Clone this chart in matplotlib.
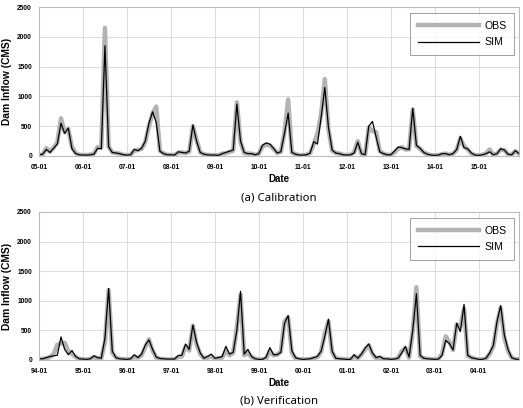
import numpy as np
import matplotlib
matplotlib.use('Agg')
import matplotlib.pyplot as plt

# monthly dam inflow (CMS)
# calibration 2005-01 .. 2015-12
cal_sim = [20, 30, 110, 60, 130, 200, 550, 380, 470, 120, 40, 20,
           15, 15, 20, 30, 130, 120, 1850, 150, 60, 50, 40, 20,
           15, 20, 110, 90, 130, 250, 550, 740, 560, 80, 40, 20,
           20, 15, 70, 60, 50, 80, 520, 250, 60, 30, 20, 15,
           15, 10, 40, 60, 80, 100, 870, 250, 60, 40, 40, 20,
           40, 180, 220, 200, 130, 50, 70, 380, 720, 60, 30, 15,
           15, 20, 50, 240, 200, 650, 1150, 480, 100, 50, 40, 20,
           15, 20, 50, 230, 40, 20, 500, 580, 320, 70, 40, 20,
           20, 80, 150, 140, 120, 110, 800, 180, 130, 60, 30, 15,
           10, 15, 40, 40, 20, 40, 110, 330, 140, 120, 50, 15,
           10, 20, 40, 70, 20, 40, 120, 100, 30, 20, 90, 40]
cal_obs = [15, 25, 130, 70, 140, 230, 630, 400, 450, 150, 50, 20,
           15, 15, 25, 40, 150, 140, 2150, 160, 60, 50, 40, 20,
           15, 20, 90, 100, 120, 230, 500, 720, 830, 90, 40, 20,
           20, 15, 60, 60, 50, 70, 500, 270, 60, 30, 20, 15,
           15, 10, 40, 50, 70, 90, 900, 230, 50, 40, 40, 20,
           40, 160, 190, 180, 120, 50, 70, 400, 950, 60, 30, 15,
           15, 20, 50, 200, 380, 700, 1290, 450, 90, 50, 40, 20,
           15, 20, 60, 250, 40, 20, 480, 420, 400, 80, 40, 20,
           20, 60, 120, 150, 110, 110, 780, 170, 120, 60, 30, 15,
           10, 15, 30, 40, 20, 40, 100, 300, 160, 110, 40, 15,
           10, 20, 40, 110, 20, 40, 110, 100, 30, 20, 80, 40]

# verification 1994-01 .. 2004-12
ver_sim = [20, 20, 40, 60, 70, 80, 390, 180, 90, 160, 60, 20,
           15, 10, 20, 70, 40, 30, 370, 1210, 150, 40, 20, 15,
           10, 20, 90, 40, 100, 250, 340, 180, 50, 25, 20, 15,
           15, 15, 75, 80, 270, 180, 590, 300, 120, 30, 60, 100,
           30, 40, 60, 230, 100, 130, 500, 1160, 100, 180, 60, 20,
           10, 10, 50, 210, 90, 90, 130, 620, 750, 160, 40, 20,
           10, 15, 20, 40, 60, 150, 400, 690, 150, 30, 20, 15,
           10, 10, 90, 30, 100, 200, 270, 120, 40, 60, 20, 20,
           10, 15, 30, 120, 230, 50, 500, 1120, 80, 30, 20, 15,
           10, 15, 80, 330, 280, 170, 620, 480, 940, 80, 40, 25,
           10, 10, 30, 120, 250, 650, 920, 420, 180, 40, 15, 10]
ver_obs = [15, 20, 30, 50, 100, 260, 280, 290, 150, 100, 50, 20,
           10, 10, 20, 50, 30, 30, 300, 1180, 120, 40, 20, 15,
           10, 15, 50, 40, 80, 220, 350, 160, 40, 20, 15, 10,
           10, 15, 50, 60, 230, 160, 580, 260, 100, 30, 40, 60,
           20, 30, 40, 150, 80, 120, 550, 1100, 80, 120, 50, 20,
           10, 10, 30, 150, 80, 90, 140, 650, 720, 120, 30, 15,
           10, 10, 20, 30, 50, 140, 450, 650, 130, 30, 20, 15,
           10, 10, 60, 30, 90, 180, 250, 100, 30, 40, 20, 15,
           10, 10, 30, 150, 200, 40, 480, 1230, 60, 30, 20, 15,
           10, 15, 100, 400, 300, 170, 600, 560, 870, 70, 40, 20,
           10, 10, 30, 100, 230, 620, 880, 380, 150, 40, 15, 10]

cal_ticks = ['05-01', '06-01', '07-01', '08-01', '09-01', '10-01',
             '11-01', '12-01', '13-01', '14-01', '15-01']
ver_ticks = ['94-01', '95-01', '96-01', '97-01', '98-01', '99-01',
             '00-01', '01-01', '02-01', '03-01', '04-01']

fig = plt.figure(figsize=(5.23, 4.08), dpi=100)
ax1 = fig.add_axes([39/523, 1-156/408, 480/523, 149/408])
ax2 = fig.add_axes([39/523, 1-360/408, 480/523, 148/408])


def panel(ax, obs, sim, ticks, caption):
    t = np.arange(len(obs))
    ax.plot(t, obs, color='#b3b3b3', lw=3.2, label='OBS', solid_joinstyle='round')
    ax.plot(t, sim, color='black', lw=0.9, label='SIM')
    ax.set_xlim(0, len(obs)-1)
    ax.set_ylim(0, 2500)
    ax.set_xticks(np.arange(0, len(obs), 12))
    ax.set_xticklabels(ticks)
    ax.set_yticks(np.arange(0, 2501, 500))
    ax.grid(True, color='#dcdcdc', lw=0.7)
    ax.set_axisbelow(True)
    for s in ax.spines.values():
        s.set_color('#bbbbbb')
        s.set_linewidth(0.8)
    ax.tick_params(axis='x', length=0, pad=6, labelsize=4.8)
    ax.tick_params(axis='y', length=0, pad=5, labelsize=4.8)
    for lab in ax.get_xticklabels() + ax.get_yticklabels():
        lab.set_fontweight('bold')
        lab.set_fontfamily('Liberation Sans')
    ax.set_xlabel('Date', fontsize=7, fontweight='bold', family='Liberation Sans', labelpad=2)
    ax.set_ylabel('Dam Inflow (CMS)', fontsize=7.4, fontweight='bold', family='Liberation Sans', labelpad=4)
    leg = ax.legend(loc='upper right', handlelength=5.8, fancybox=False,
                    prop={'family': 'Liberation Sans', 'size': 7.6},
                    borderpad=0.75, labelspacing=0.6, handletextpad=0.5,
                    borderaxespad=0, bbox_to_anchor=(0.99, 0.96))
    leg.get_frame().set_edgecolor('#888888')
    leg.get_frame().set_linewidth(0.7)
    ax.text(0.5, -0.28, caption, transform=ax.transAxes, ha='center', va='center',
            fontsize=8.2, family='Noto Sans')


panel(ax1, cal_obs, cal_sim, cal_ticks, '(a) Calibration')
panel(ax2, ver_obs, ver_sim, ver_ticks, '(b) Verification')

fig.savefig('out.png', dpi=100)
